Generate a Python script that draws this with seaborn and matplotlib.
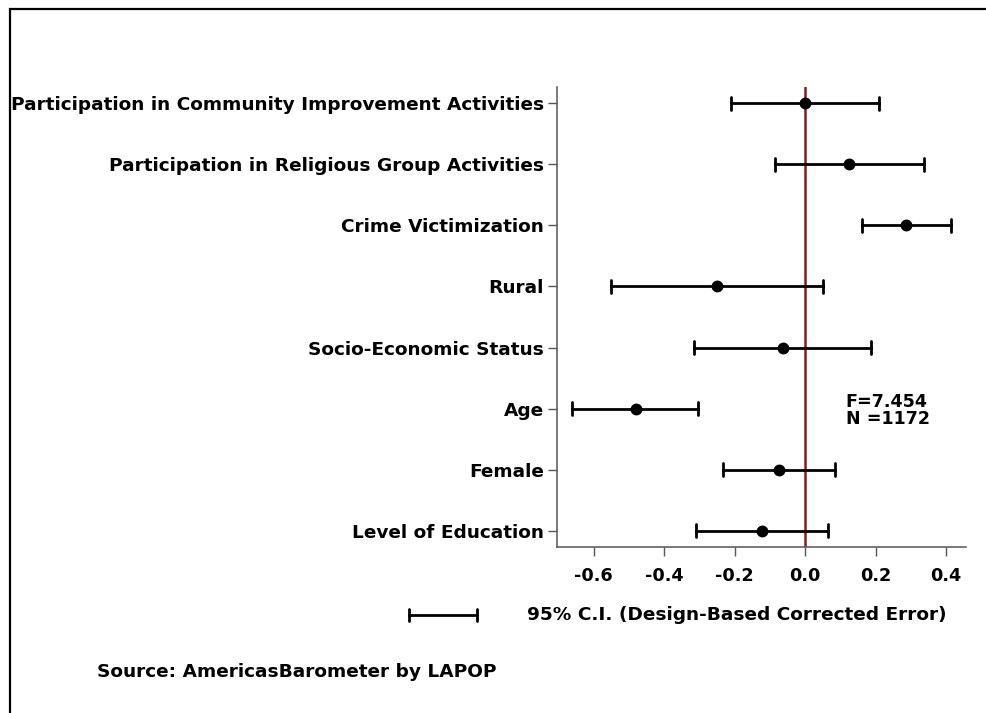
import numpy as np
import pandas as pd
import matplotlib.pyplot as plt
import matplotlib.lines as mlines
import matplotlib.patches as mpatches
import seaborn as sns

# --- data ---
variables = [
    "Participation in Community Improvement Activities",
    "Participation in Religious Group Activities",
    "Crime Victimization",
    "Rural",
    "Socio-Economic Status",
    "Age",
    "Female",
    "Level of Education",
]
coef = [0.000, 0.125, 0.287, -0.250, -0.064, -0.481, -0.075, -0.122]
lower = [-0.210, -0.085, 0.161, -0.552, -0.314, -0.660, -0.232, -0.309]
upper = [0.210, 0.336, 0.414, 0.051, 0.186, -0.303, 0.085, 0.064]
x_ticks = [-0.6, -0.4, -0.2, 0.0, 0.2, 0.4]
stats_text = "F=7.454\nN =1172"

# long form: median of (lower, coef, upper) is the coefficient,
# the 100% interval spans lower..upper
df = pd.DataFrame({
    "variable": np.repeat(variables, 3),
    "value": np.column_stack([lower, coef, upper]).ravel(),
})

sns.set_style("white")
plt.rcParams["font.family"] = ["DejaVu Sans"]
plt.rcParams["font.weight"] = "bold"
plt.rcParams["text.color"] = "black"
plt.rcParams["xtick.labelcolor"] = "black"
plt.rcParams["ytick.labelcolor"] = "black"

W, H = 986, 713
fig = plt.figure(figsize=(W / 100, H / 100), dpi=100)
ax = fig.add_axes([557.3 / W, 1 - 546.7 / H, (965.5 - 557.3) / W, (546.7 - 87.3) / H])

sns.pointplot(
    data=df, x="value", y="variable", order=variables,
    estimator="median", errorbar=("pi", 100),
    linestyle="none", marker="o", markersize=6.5, color="black",
    capsize=0.21, err_kws={"linewidth": 2.0}, ax=ax,
)

ax.axvline(0, color="#8B1A1A", lw=1.8, zorder=0)

ax.set_xlim(-0.703, 0.455)
ax.set_ylim(7.26, -0.26)
ax.set_xticks(x_ticks)
ax.set_xticklabels([f"{t:.1f}" for t in x_ticks])
ax.set_xlabel("")
ax.set_ylabel("")

for side in ["top", "right"]:
    ax.spines[side].set_visible(False)
for side in ["left", "bottom"]:
    ax.spines[side].set_color("#555555")
    ax.spines[side].set_linewidth(1.1)

ax.tick_params(axis="y", length=6.5, width=1.0, color="#555555", pad=3,
               labelsize=13.3, left=True, labelcolor="black")
ax.tick_params(axis="x", length=6.5, width=1.0, color="#555555", pad=8,
               labelsize=12.7, bottom=True, labelcolor="black")
for lab in ax.get_xticklabels() + ax.get_yticklabels():
    lab.set_fontweight("bold")

ax.text(0.115, 5.03, stats_text, ha="left", va="center", fontsize=12.6,
        fontweight="bold", linespacing=0.95, color="black")

# legend: sample error bar + caption
ly = 1 - 615 / H
cap = 6 / H
fig.add_artist(mlines.Line2D([409 / W, 476.5 / W], [ly, ly], color="black", lw=2.0))
for cx in (409 / W, 476.5 / W):
    fig.add_artist(mlines.Line2D([cx, cx], [ly - cap, ly + cap], color="black", lw=2.0))
fig.text(527 / W, ly, "95% C.I. (Design-Based Corrected Error)", ha="left",
         va="center", fontsize=13.3, fontweight="bold", color="black")

fig.text(97 / W, 1 - 671.7 / H, "Source: AmericasBarometer by LAPOP", ha="left",
         va="center", fontsize=13.3, fontweight="bold", color="black")

# outer frame (top and left edges visible)
fig.add_artist(mpatches.Rectangle((10 / W, -0.1), 1.2, 1.1 - 9.5 / H,
                                  transform=fig.transFigure, fill=False,
                                  edgecolor="black", lw=1.6))

fig.savefig("out.png", dpi=100)
